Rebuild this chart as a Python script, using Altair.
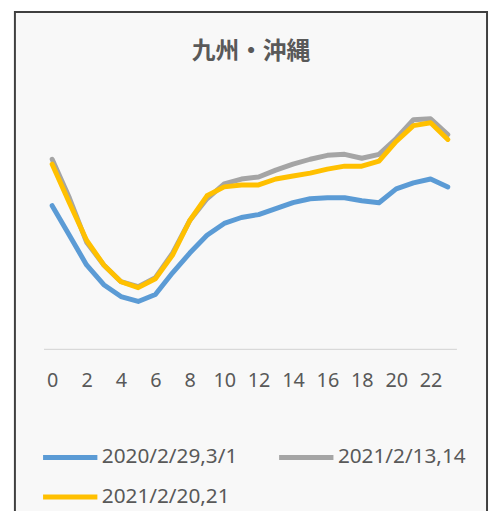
import altair as alt
import pandas as pd

# ---- data ----
hours = list(range(24))
series_names = ["2020/2/29,3/1", "2021/2/13,14", "2021/2/20,21"]
blue_vals = [145, 115, 85, 65, 53, 48, 55, 77, 97, 115, 127, 133,
             136, 142, 148, 152, 153, 153, 150, 148, 162, 168, 172, 164]
gray_vals = [192, 153, 108, 85, 68, 63, 72, 97, 130, 152, 167, 172,
             174, 181, 187, 192, 196, 197, 193, 197, 213, 232, 233, 217]
yellow_vals = [187, 148, 110, 85, 68, 62, 71, 95, 130, 155, 164, 166,
               166, 172, 175, 178, 182, 185, 185, 190, 210, 226, 229, 212]
colors = ["#5B9BD5", "#A5A5A5", "#FFC000"]
tick_hours = [0, 2, 4, 6, 8, 10, 12, 14, 16, 18, 20, 22]
title_text = "九州・沖縄"

rows = []
for name, vals in zip(series_names, [blue_vals, gray_vals, yellow_vals]):
    for h, v in zip(hours, vals):
        rows.append({"hour": h, "value": v, "series": name})
df = pd.DataFrame(rows)

W, H = 418, 250

frame = alt.Chart(pd.DataFrame({"k": [0]})).mark_rect(
    fill="#f8f8f8", stroke="#3f3f3f", strokeWidth=2
).encode(
    x=alt.value(-29), x2=alt.value(449), y=alt.value(-91), y2=alt.value(520)
)

title = alt.Chart(pd.DataFrame({"t": [title_text]})).mark_text(
    fontSize=24, fontWeight="bold", color="#595959", font="Noto Sans CJK JP",
    baseline="middle", align="center"
).encode(text="t:N", x=alt.value(W / 2 + 1), y=alt.value(-50))

lines = alt.Chart(df).mark_line(
    strokeWidth=5, strokeCap="round", strokeJoin="round"
).encode(
    x=alt.X("hour:Q",
            scale=alt.Scale(domain=[-0.5, 23.5], nice=False, zero=False),
            axis=alt.Axis(values=tick_hours, title=None, ticks=False, grid=False,
                          labelFontSize=20, labelColor="#595959", labelPadding=22,
                          domainColor="#d9d9d9", domainWidth=1.5, zindex=1,
                          labelFont="Noto Sans", format="d")),
    y=alt.Y("value:Q", scale=alt.Scale(domain=[0, 250], nice=False, zero=True),
            axis=None),
    color=alt.Color("series:N",
                    scale=alt.Scale(domain=series_names, range=colors),
                    legend=alt.Legend(title=None, orient="none", legendX=-3, legendY=330,
                                      direction="horizontal",
                                      columns=2, symbolType="stroke", symbolSize=3025,
                                      symbolStrokeWidth=5, labelFontSize=21,
                                      labelColor="#595959", labelFont="Noto Sans",
                                      columnPadding=31, rowPadding=-30, labelOffset=2,
                                      labelLimit=300, zindex=1)),
)

chart = alt.layer(frame, title, lines).properties(
    width=W, height=H,
    autosize=alt.AutoSizeParams(type="none"),
    padding={"left": 36, "top": 92, "right": 33, "bottom": 161},
    background="white",
).configure_view(stroke=None)

chart.save("out.html", embed_options={"renderer": "svg", "actions": False})
